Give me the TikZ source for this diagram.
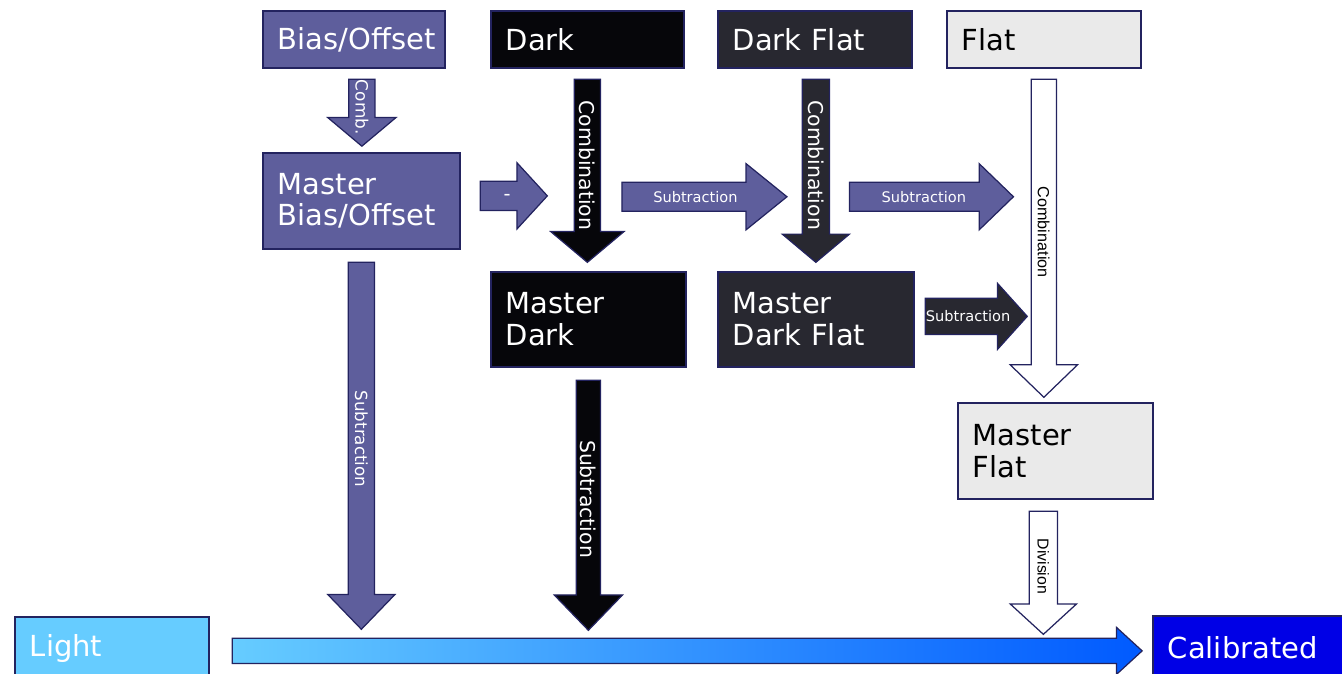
\documentclass[tikz,border=0pt]{standalone}
\usepackage{fontspec}
\setmainfont{DejaVu Sans}
\newfontfamily\arialfont{Liberation Sans}
\usepackage{tikz}
\usetikzlibrary{positioning, calc, shapes.arrows}
\definecolor{navy}{RGB}{35, 35, 95}
\definecolor{slate}{RGB}{94, 94, 156}
\definecolor{nightblk}{RGB}{6, 6, 10}
\definecolor{charcoal}{RGB}{40, 40, 48}
\definecolor{paleg}{RGB}{234, 234, 234}
\definecolor{skyblue}{RGB}{102, 204, 255}
\definecolor{midblue}{RGB}{0, 90, 255}
\definecolor{deepblue}{RGB}{0, 0, 230}
\newcommand{\bigtxt}{\fontsize{16.5}{18}\selectfont}
\tikzset{
  frame/.style={draw=navy, line width=1pt, fill=#1, anchor=north west, align=left,
                inner xsep=0.3cm, inner ysep=0pt, font=\bigtxt},
  blk/.style={single arrow, draw=navy, line width=0.7pt, fill=#1, inner sep=0pt,
              single arrow head indent=0pt, anchor=tail},
  small/.style={font=\fontsize{8.3}{9}\selectfont, text=white},
  mid/.style={font=\fontsize{9.6}{10}\selectfont, text=white},
  large/.style={font=\fontsize{11.6}{12}\selectfont, text=white},
  plain/.style={font=\arialfont\fontsize{9.2}{10}\selectfont, text=black},
}
\begin{document}
\begin{tikzpicture}[x=0.02cm, y=-0.02cm]
  \useasboundingbox (0,0) rectangle (1342,673);
  % raw frames
  \node[frame=slate, text=white, text width=3.04cm, minimum height=1.14cm] (bias) at (262,10) {Bias/Offset};
  \node[frame=nightblk, text=white, text width=3.26cm, minimum height=1.14cm] (dark) at (490,10) {Dark};
  \node[frame=charcoal, text=white, text width=3.28cm, minimum height=1.14cm] (darkflat) at (717,10) {Dark Flat};
  \node[frame=paleg, text=black, text width=3.28cm, minimum height=1.14cm] (flat) at (946,10) {Flat};
  % master frames
  \node[frame=slate, text=white, text width=3.34cm, minimum height=1.92cm] (mbias) at (262,152) {Master\\Bias/Offset};
  \node[frame=nightblk, text=white, text width=3.30cm, minimum height=1.9cm] (mdark) at (490,271) {Master\\Dark};
  \node[frame=charcoal, text=white, text width=3.32cm, minimum height=1.9cm] (mdarkflat) at (717,271) {Master\\Dark Flat};
  \node[frame=paleg, text=black, text width=3.30cm, minimum height=1.92cm] (mflat) at (957,402) {Master\\Flat};
  % light and result
  \node[frame=skyblue, text=white, text width=3.28cm, minimum height=1.28cm] (light) at (14,616) {Light};
  \node[frame=deepblue, text=white, text width=3.30cm, minimum height=1.28cm] (calib) at (1152,615) {Calibrated};
  % combination arrows
  \node[blk=slate, mid, rotate=-90, minimum height=1.26cm, minimum width=1.34cm,
        single arrow head extend=0.42cm, single arrow tip angle=100,
        text height=0.375cm, text depth=0.125cm]
        (combbias) at ($(bias.south)+(8,10)$) {Comb.};
  \node[blk=nightblk, large, rotate=-90, minimum height=3.66cm, minimum width=1.44cm,
        single arrow head extend=0.47cm, single arrow tip angle=100,
        text height=0.4cm, text depth=0.1cm]
        (combdark) at ($(dark.south)+(0,10)$) {Combination};
  \node[blk=charcoal, large, rotate=-90, minimum height=3.66cm, minimum width=1.32cm,
        single arrow head extend=0.4cm, single arrow tip angle=100,
        text height=0.41cm, text depth=0.11cm]
        (combdarkflat) at ($(darkflat.south)+(1,10)$) {Combination};
  \node[blk=white, plain, rotate=-90, minimum height=6.36cm, minimum width=1.32cm,
        single arrow head extend=0.42cm, single arrow tip angle=92,
        text height=0.36cm, text depth=0.12cm]
        (combflat) at ($(flat.south)+(0,10)$) {Combination};
  % subtraction arrows
  \node[blk=slate, minimum height=1.34cm, minimum width=1.3cm,
        single arrow head extend=0.37cm, single arrow tip angle=95,
        text height=0.38cm, text depth=0.18cm, font=\fontsize{11}{12}\selectfont, text=white]
        (minus) at ($(mbias.east)+(19,-5)$) {-};
  \node[blk=slate, small, minimum height=3.3cm, minimum width=1.3cm,
        single arrow head extend=0.37cm, single arrow tip angle=78,
        text height=0.39cm, text depth=0.17cm]
        (subdark) at ($(dark.south)+(34,128)$) {Subtraction};
  \node[blk=slate, small, minimum height=3.28cm, minimum width=1.3cm,
        single arrow head extend=0.37cm, single arrow tip angle=88,
        text height=0.39cm, text depth=0.17cm]
        (subdarkflat) at ($(darkflat.south)+(34,128)$) {Subtraction};
  \node[blk=charcoal, small, minimum height=1.98cm, minimum width=1.3cm,
        single arrow head extend=0.3cm, single arrow tip angle=96,
        text height=0.46cm, text depth=0.24cm]
        (subflat) at ($(mdarkflat.east)+(10,-3)$) {Subtraction};
  \node[blk=slate, rotate=-90, minimum height=7.34cm, minimum width=1.32cm,
        single arrow head extend=0.41cm, single arrow tip angle=88,
        text height=0.375cm, text depth=0.125cm, font=\fontsize{9.5}{10}\selectfont, text=white]
        (sublight) at ($(mbias.south)+(0,12)$) {Subtraction};
  \node[blk=nightblk, large, rotate=-90, minimum height=5cm, minimum width=1.34cm,
        single arrow head extend=0.44cm, single arrow tip angle=88,
        text height=0.38cm, text depth=0.08cm]
        (subdarklight) at ($(mdark.south)+(0,12)$) {Subtraction};
  % division
  \node[blk=white, rotate=-90, minimum height=2.46cm, minimum width=1.3cm,
        single arrow head extend=0.38cm, single arrow tip angle=95,
        text height=0.385cm, text depth=0.155cm, font=\arialfont\fontsize{9}{10}\selectfont]
        (division) at ($(mflat.south)+(-12,11)$) {Division};
  % calibration
  \node[blk=white, left color=skyblue, right color=midblue, minimum height=18.2cm,
        minimum width=0.92cm, single arrow head extend=0.22cm, single arrow tip angle=85,
        text height=0.48cm, text depth=0cm]
        (flow) at ($(light.east)+(22,2)$) {};
\end{tikzpicture}
\end{document}
